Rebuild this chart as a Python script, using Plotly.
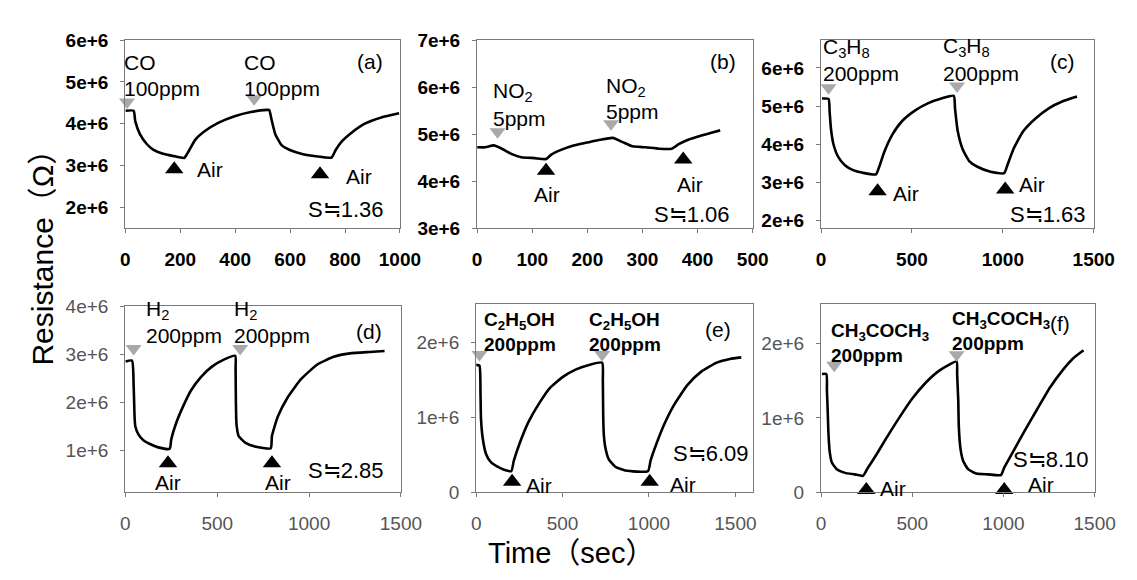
import plotly.graph_objects as go

W, H = 1137, 580
FONT = "Liberation Sans, Arial, Noto Sans CJK JP, sans-serif"
MEG = 1e6

# ---------------- data (time in s, resistance in MOhm) ----------------
a_t = [0, 30, 36, 53, 77, 101, 137, 172, 214, 226, 255, 291, 338, 398, 457, 516, 524,
       531, 546, 570, 599, 647, 694, 751, 766, 789, 825, 872, 932, 997]
a_r = [4.31, 4.31, 4.06, 3.75, 3.52, 3.38, 3.28, 3.23, 3.18, 3.29, 3.62, 3.83, 4.02, 4.18, 4.28, 4.33, 4.33,
       4.14, 3.75, 3.48, 3.37, 3.27, 3.22, 3.19, 3.37, 3.58, 3.79, 4.00, 4.15, 4.25]

b_t = [0, 15, 30, 45, 62, 80, 104, 125, 134, 151, 175, 199, 223, 246, 264, 282, 306, 330,
       353, 365, 383, 407, 425, 441]
b_r = [4.72, 4.72, 4.76, 4.69, 4.58, 4.51, 4.49, 4.47, 4.56, 4.66, 4.76, 4.82, 4.88, 4.92, 4.83, 4.74, 4.72, 4.69,
       4.69, 4.78, 4.88, 4.97, 5.03, 5.08]

c_t = [5, 41, 47, 54, 68, 95, 131, 176, 230, 302, 320, 347, 392, 446, 518, 590, 662, 730,
       737, 752, 779, 815, 860, 932, 1007, 1025, 1058, 1112, 1183, 1255, 1327, 1408]
c_r = [5.20, 5.19, 4.85, 4.42, 4.00, 3.66, 3.45, 3.32, 3.25, 3.21, 3.41, 3.79, 4.25, 4.61, 4.89, 5.08, 5.20, 5.27,
       4.93, 4.34, 3.87, 3.56, 3.41, 3.28, 3.24, 3.45, 3.87, 4.34, 4.69, 4.95, 5.12, 5.25]

d_t = [0, 36, 45, 48, 50, 54, 71, 98, 134, 179, 241, 250, 277, 313, 357, 411, 473, 536, 598,
       600, 601, 603, 606, 616, 652, 705, 791, 798, 830, 884, 955, 1045, 1134, 1223, 1330, 1411]
d_r = [2.85, 2.87, 2.35, 1.98, 1.71, 1.51, 1.34, 1.22, 1.14, 1.07, 1.04, 1.24, 1.58, 1.91, 2.25, 2.53, 2.75, 2.89, 2.97,
       2.72, 2.25, 1.71, 1.51, 1.31, 1.17, 1.09, 1.05, 1.31, 1.71, 2.11, 2.48, 2.79, 2.95, 3.02, 3.05, 3.07]

e_t = [0, 19, 25, 28, 38, 57, 85, 123, 161, 203, 218, 256, 303, 360, 426, 502, 578, 653, 729,
       733, 735, 739, 748, 767, 805, 862, 994, 1009, 1042, 1089, 1146, 1222, 1297, 1392, 1468, 1534]
e_r = [1.70, 1.69, 1.32, 0.98, 0.72, 0.51, 0.40, 0.34, 0.30, 0.28, 0.42, 0.68, 0.94, 1.17, 1.39, 1.54, 1.64, 1.70, 1.73,
       1.49, 1.02, 0.76, 0.59, 0.44, 0.34, 0.29, 0.28, 0.42, 0.64, 0.91, 1.17, 1.43, 1.60, 1.73, 1.78, 1.80]

f_t = [5, 29, 32, 36, 40, 47, 59, 86, 131, 185, 230, 257, 302, 356, 428, 500, 572, 644, 698, 743,
       746, 752, 755, 764, 779, 806, 851, 914, 986, 1004, 1049, 1112, 1183, 1255, 1327, 1381, 1439]
f_r = [1.59, 1.59, 1.37, 1.11, 0.81, 0.55, 0.40, 0.31, 0.26, 0.24, 0.22, 0.33, 0.50, 0.72, 1.00, 1.26, 1.47, 1.63, 1.71, 1.76,
       1.58, 1.24, 0.89, 0.59, 0.42, 0.31, 0.25, 0.24, 0.23, 0.33, 0.53, 0.81, 1.11, 1.41, 1.65, 1.80, 1.91]

# gas-on (grey ▼) and air-on (black ▲) events: time, resistance level of the marker
a_gas_t, a_gas_r, a_air_t, a_air_r = [6, 469], [4.52, 4.60], [178, 709], [2.91, 2.79]
b_gas_t, b_gas_r, b_air_t, b_air_r = [37, 243], [5.05, 5.22], [125, 374], [4.22, 4.46]
c_gas_t, c_gas_r, c_air_t, c_air_r = [41, 748], [5.48, 5.53], [311, 1013], [2.77, 2.81]
d_gas_t, d_gas_r, d_air_t, d_air_r = [45, 625], [3.12, 3.12], [232, 798], [0.74, 0.74]
e_gas_t, e_gas_r, e_air_t, e_air_r = [19, 729], [1.84, 1.84], [208, 1004], [0.14, 0.14]
f_gas_t, f_gas_r, f_air_t, f_air_r = [72, 743], [1.71, 1.85], [248, 1004], [0.03, 0.03]

# tick values / labels
a_xticks = [0, 200, 400, 600, 800, 1000]
b_xticks = [0, 100, 200, 300, 400, 500]
c_xticks = [0, 500, 1000, 1500]
d_xticks = [0, 500, 1000, 1500]
e_xticks = [0, 500, 1000, 1500]
f_xticks = [0, 500, 1000, 1500]
a_yticks = [2, 3, 4, 5, 6]
a_ylabels = ["2e+6", "3e+6", "4e+6", "5e+6", "6e+6"]
b_yticks = [3, 4, 5, 6, 7]
b_ylabels = ["3e+6", "4e+6", "5e+6", "6e+6", "7e+6"]
c_yticks = [2, 3, 4, 5, 6]
c_ylabels = ["2e+6", "3e+6", "4e+6", "5e+6", "6e+6"]
d_yticks = [1, 2, 3, 4]
d_ylabels = ["1e+6", "2e+6", "3e+6", "4e+6"]
e_yticks = [0, 1, 2]
e_ylabels = ["0", "1e+6", "2e+6"]
f_yticks = [0, 1, 2]
f_ylabels = ["0", "1e+6", "2e+6"]

# texts
gas_name = ["CO", "NO<sub>2</sub>", "C<sub>3</sub>H<sub>8</sub>", "H<sub>2</sub>",
            "C<sub>2</sub>H<sub>5</sub>OH", "CH<sub>3</sub>COCH<sub>3</sub>"]
gas_conc = ["100ppm", "5ppm", "200ppm", "200ppm", "200ppm", "200ppm"]
sens_value = ["1.36", "1.06", "1.63", "2.85", "6.09", "8.10"]
tags = ["(a)", "(b)", "(c)", "(d)", "(e)", "(f)"]
air_label = "Air"
y_title = "Resistance（Ω）"
x_title = "Time（sec）"
APPROX = '<span style="font-family:Noto Sans CJK JP">≒</span>'
sens = ["S" + APPROX + v for v in sens_value]

# ---------------- layout of panels (pixel boxes) ----------------
panels = [
    dict(t=a_t, r=a_r, gas=(a_gas_t, a_gas_r), air=(a_air_t, a_air_r), box=(115, 23, 396, 218),
         xr=[0, 1000], xt=a_xticks, yr=[1.5, 6.0], yt=a_yticks, yl=a_ylabels, top=True),
    dict(t=b_t, r=b_r, gas=(b_gas_t, b_gas_r), air=(b_air_t, b_air_r), box=(475, 23, 757, 218),
         xr=[0, 500], xt=b_xticks, yr=[3.0, 7.0], yt=b_yticks, yl=b_ylabels, top=True),
    dict(t=c_t, r=c_r, gas=(c_gas_t, c_gas_r), air=(c_air_t, c_air_r), box=(827, 23, 1106, 218),
         xr=[0, 1500], xt=c_xticks, yr=[1.8, 6.73], yt=c_yticks, yl=c_ylabels, top=True),
    dict(t=d_t, r=d_r, gas=(d_gas_t, d_gas_r), air=(d_air_t, d_air_r), box=(115, 299, 397, 492),
         xr=[0, 1500], xt=d_xticks, yr=[0.14, 4.0], yt=d_yticks, yl=d_ylabels, top=False),
    dict(t=e_t, r=e_r, gas=(e_gas_t, e_gas_r), air=(e_air_t, e_air_r), box=(474, 297, 757, 492),
         xr=[0, 1600], xt=e_xticks, yr=[0, 2.51], yt=e_yticks, yl=e_ylabels, top=False),
    dict(t=f_t, r=f_r, gas=(f_gas_t, f_gas_r), air=(f_air_t, f_air_r), box=(827, 297, 1107, 492),
         xr=[0, 1500], xt=f_xticks, yr=[0, 2.53], yt=f_yticks, yl=f_ylabels, top=False),
]

fig = go.Figure()
layout = dict(width=W, height=H, autosize=False, margin=dict(l=0, r=0, t=0, b=0),
              paper_bgcolor="white", plot_bgcolor="white", showlegend=False,
              font=dict(family=FONT, color="black"))

for i, p in enumerate(panels):
    n = "" if i == 0 else str(i + 1)
    X0, Y0, X1, Y1 = p["box"]
    fig.add_trace(go.Scatter(x=p["t"], y=[v * MEG for v in p["r"]], mode="lines",
                             line=dict(color="black", width=2.6, shape="spline", smoothing=0.5),
                             xaxis="x" + n, yaxis="y" + n, hoverinfo="skip"))
    fig.add_trace(go.Scatter(x=p["gas"][0], y=[v * MEG for v in p["gas"][1]], mode="markers",
                             marker=dict(symbol="triangle-down", size=14, color="#a9a9a9"),
                             cliponaxis=False, xaxis="x" + n, yaxis="y" + n, hoverinfo="skip"))
    fig.add_trace(go.Scatter(x=p["air"][0], y=[v * MEG for v in p["air"][1]], mode="markers",
                             marker=dict(symbol="triangle-up", size=16, color="black"),
                             cliponaxis=False, xaxis="x" + n, yaxis="y" + n, hoverinfo="skip"))
    if p["top"]:
        tf = dict(family=FONT, size=19, color="black", weight="bold")
    else:
        tf = dict(family=FONT, size=19, color="#555555")
    common = dict(showline=True, mirror=True, linecolor="#7a7a7a", linewidth=1.3,
                  ticks="outside", ticklen=4, tickcolor="#7a7a7a", tickwidth=1,
                  showgrid=False, zeroline=False, tickfont=tf, fixedrange=True)
    layout["xaxis" + n] = dict(domain=[X0 / W, X1 / W], range=p["xr"], tickvals=p["xt"],
                               anchor="y" + n, ticklabelstandoff=10, **common)
    layout["yaxis" + n] = dict(domain=[1 - Y1 / H, 1 - Y0 / H], range=[v * MEG for v in p["yr"]],
                               tickvals=[v * MEG for v in p["yt"]], ticktext=p["yl"],
                               anchor="x" + n, ticklabelstandoff=8, **common)

ann = []


def add(X, Y, text, size=21, xanchor="left", bold=False, color="black", angle=0):
    f = dict(family=FONT, size=size, color=color)
    if bold:
        f["weight"] = "bold"
    ann.append(dict(xref="paper", yref="paper", x=X / W, y=1 - Y / H, text=text, showarrow=False,
                    xanchor=xanchor, yanchor="middle", font=f, textangle=angle, align="left"))


# (a)
add(112, 46, gas_name[0]); add(112, 73, gas_conc[0])
add(234, 46, gas_name[0]); add(234, 73, gas_conc[0])
add(202, 157, air_label, xanchor="center"); add(354, 164, air_label, xanchor="center")
add(341, 196, sens[0], size=22, xanchor="center")
add(365, 45, tags[0], xanchor="center")
# (b)
add(489, 77, gas_name[1]); add(489, 104, gas_conc[1])
add(605, 72, gas_name[1]); add(605, 97, gas_conc[1])
add(546, 183, air_label, xanchor="center"); add(693, 173, air_label, xanchor="center")
add(695, 201, sens[1], size=22, xanchor="center")
add(727, 45, tags[1], xanchor="center")
# (c)
add(827, 31, gas_name[2]); add(827, 58, gas_conc[2])
add(950, 30, gas_name[2]); add(950, 58, gas_conc[2])
add(914, 182, air_label, xanchor="center"); add(1043, 173, air_label, xanchor="center")
add(1059, 201, sens[2], size=22, xanchor="center")
add(1074, 45, tags[2], xanchor="center")
# (d)
add(134, 303, gas_name[3]); add(134, 329, gas_conc[3])
add(224, 303, gas_name[3]); add(224, 329, gas_conc[3])
add(159, 482, air_label, xanchor="center"); add(271, 482, air_label, xanchor="center")
add(341, 467, sens[3], size=22, xanchor="center")
add(364, 325, tags[3], xanchor="center")
# (e)
add(480, 314, gas_name[4], size=19, bold=True); add(480, 339, gas_conc[4], size=19, bold=True)
add(587, 314, gas_name[4], size=19, bold=True); add(587, 339, gas_conc[4], size=19, bold=True)
add(538, 485, air_label, xanchor="center"); add(686, 484, air_label, xanchor="center")
add(673, 449, sens[4], size=22)
add(722, 323, tags[4], xanchor="center")
# (f)
add(835, 326, gas_name[5], size=19, bold=True); add(835, 350, gas_conc[5], size=19, bold=True)
add(959, 313, gas_name[5], size=19, bold=True); add(959, 338, gas_conc[5], size=19, bold=True)
add(1071, 317, tags[5], xanchor="center")
add(901, 488, air_label, xanchor="center"); add(1052, 484, air_label, xanchor="center")
add(1062, 456, sens[5], size=22, xanchor="center")
# axis titles
add(30, 241, y_title, size=30, xanchor="center", angle=-90)
add(572, 555, x_title, size=29, xanchor="center")

layout["annotations"] = ann
fig.update_layout(**layout)
fig.write_html("out.html")
